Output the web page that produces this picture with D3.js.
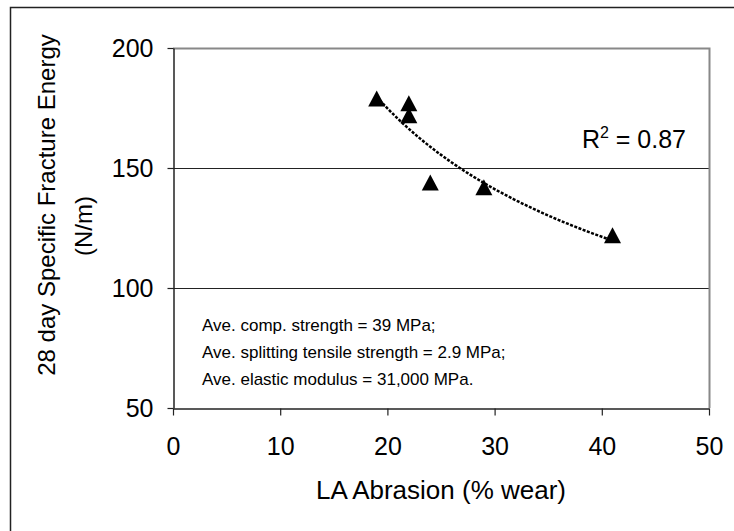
<!DOCTYPE html>
<html>
<head>
<meta charset="utf-8">
<script src="https://cdn.jsdelivr.net/npm/d3@7"></script>
<style>
  body { margin: 0; background: #fff; }
  svg { display: block; font-family: "Liberation Sans", Arial, sans-serif; }
</style>
</head>
<body>
<div id="chart"></div>
<script>
// LA abrasion (% wear) vs 28 day specific fracture energy (N/m)
var abrasion = [19, 22, 22, 24, 29, 41];
var fractureEnergy = [179, 177, 172, 144, 142, 122];
var xTicks = [0, 10, 20, 30, 40, 50];
var yTicks = [50, 100, 150, 200];
var notes = [
    "Ave. comp. strength = 39 MPa;",
    "Ave. splitting tensile strength = 2.9 MPa;",
    "Ave. elastic modulus = 31,000 MPa."
];

var W = 734, H = 531;
var svg = d3.select("#chart").append("svg")
    .attr("width", W)
    .attr("height", H);

// chart frame (runs off the right and bottom of the picture)
svg.append("rect")
    .attr("x", 10.5).attr("y", 7.5)
    .attr("width", 760).attr("height", 560)
    .attr("fill", "#fff")
    .attr("stroke", "#222")
    .attr("stroke-width", 1.5);

var x = d3.scaleLinear().domain([0, 50]).range([173, 709]);
var y = d3.scaleLinear().domain([50, 200]).range([408, 48]);

// gridlines
svg.append("g").selectAll("line")
    .data([100, 150])
    .enter().append("line")
    .attr("x1", x(0)).attr("x2", x(50))
    .attr("y1", function (d) { return y(d) + 0.5; })
    .attr("y2", function (d) { return y(d) + 0.5; })
    .attr("stroke", "#222")
    .attr("stroke-width", 1);

// plot area border (top + right), grey
svg.append("path")
    .attr("d", "M" + x(0) + "," + (y(200) + 0.5) + "H" + (x(50) + 0.5) + "V" + y(50))
    .attr("fill", "none")
    .attr("stroke", "#888")
    .attr("stroke-width", 2);

var xAxis = svg.append("g")
    .attr("transform", "translate(0," + (y(50) + 0.5) + ")")
    .call(d3.axisBottom(x).tickValues(xTicks).tickSize(7).tickSizeOuter(0).tickPadding(22));

var yAxis = svg.append("g")
    .attr("transform", "translate(" + (x(0) + 0.5) + ",0)")
    .call(d3.axisLeft(y).tickValues(yTicks).tickSize(6).tickSizeOuter(0).tickPadding(14));

[xAxis, yAxis].forEach(function (g) {
    g.select(".domain").attr("stroke", "#222").attr("stroke-width", 1.5);
    g.selectAll(".tick line").attr("stroke", "#222").attr("stroke-width", 1.2);
    g.selectAll(".tick text")
        .attr("fill", "#000")
        .style("font-size", "25px")
        .style("font-family", "'Liberation Sans', Arial, sans-serif");
});

// power trendline fitted to the points
var lx = abrasion.map(Math.log), ly = fractureEnergy.map(Math.log);
var mx = d3.mean(lx), my = d3.mean(ly);
var sxy = d3.sum(lx, function (v, i) { return (v - mx) * (ly[i] - my); });
var sxx = d3.sum(lx, function (v) { return (v - mx) * (v - mx); });
var b = sxy / sxx, a = Math.exp(my - b * mx);
var xs = d3.range(d3.min(abrasion), d3.max(abrasion) + 0.01, 0.25);

svg.append("path")
    .datum(xs)
    .attr("d", d3.line()
        .x(function (d) { return x(d); })
        .y(function (d) { return y(a * Math.pow(d, b)); }))
    .attr("fill", "none")
    .attr("stroke", "#000")
    .attr("stroke-width", 2.5)
    .attr("stroke-dasharray", "3,1.5");

// triangle markers
svg.append("g").selectAll("path")
    .data(abrasion)
    .enter().append("path")
    .attr("d", "M0,-8L8.5,8L-8.5,8Z")
    .attr("transform", function (d, i) {
        return "translate(" + x(d) + "," + y(fractureEnergy[i]) + ")";
    })
    .attr("fill", "#000");

// R^2 label
var r2 = svg.append("text")
    .attr("x", 686).attr("y", 148)
    .attr("text-anchor", "end")
    .style("font-size", "25px")
    .attr("fill", "#000");
r2.append("tspan").text("R");
r2.append("tspan").attr("dy", -10).style("font-size", "16px").text("2");
r2.append("tspan").attr("dy", 10).text(" = 0.87");

// notes
svg.append("g").selectAll("text")
    .data(notes)
    .enter().append("text")
    .attr("x", 202)
    .attr("y", function (d, i) { return 331 + i * 27; })
    .style("font-size", "17px")
    .attr("fill", "#000")
    .text(function (d) { return d; });

// axis titles
svg.append("text")
    .attr("x", x(25)).attr("y", 499)
    .attr("text-anchor", "middle")
    .style("font-size", "26px")
    .attr("fill", "#000")
    .text("LA Abrasion (% wear)");

svg.append("text")
    .attr("transform", "translate(55,205) rotate(-90)")
    .attr("text-anchor", "middle")
    .style("font-size", "24px")
    .attr("fill", "#000")
    .text("28 day Specific Fracture Energy");

svg.append("text")
    .attr("transform", "translate(92,226) rotate(-90)")
    .attr("text-anchor", "middle")
    .style("font-size", "24px")
    .attr("fill", "#000")
    .text("(N/m)");
</script>
</body>
</html>
